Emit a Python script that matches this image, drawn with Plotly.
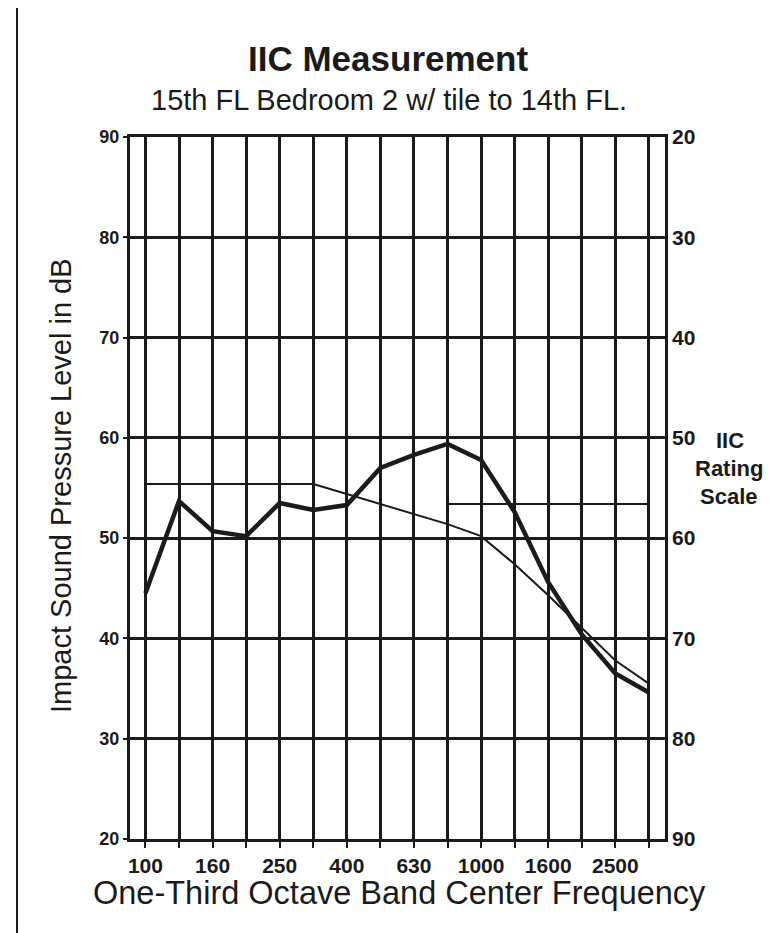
import plotly.graph_objects as go

# ---- data ----
bands = ["100", "125", "160", "200", "250", "315", "400", "500", "630",
         "800", "1000", "1250", "1600", "2000", "2500", "3150"]
band_labels = ["100", "", "160", "", "250", "", "400", "", "630",
               "", "1000", "", "1600", "", "2500", ""]
measured = [44.5, 53.7, 50.7, 50.2, 53.5, 52.8, 53.3, 57.0, 58.3,
            59.4, 57.8, 52.6, 45.6, 40.4, 36.5, 34.6]
contour = [55.4, 55.4, 55.4, 55.4, 55.4, 55.4, 54.4, 53.4, 52.4,
           51.4, 50.2, 47.4, 44.3, 41.0, 37.8, 35.5]
iic_line_bands = ["800", "3150"]
iic_line_level = [53.4, 53.4]
spl_ticks = [20, 30, 40, 50, 60, 70, 80, 90]
rating_ticks = [20, 30, 40, 50, 60, 70, 80, 90]

# ---- layout geometry (pixels) ----
W, H = 775, 933
L, R, T, B = 122, 118, 129, 102
PW, PH = W - L - R, H - T - B


def px(x):
    return (x - L) / PW


def py(y):
    return (H - B - y) / PH


INK = "#1b1b1b"
FONT = "Arial, Liberation Sans, sans-serif"

fig = go.Figure()
fig.add_trace(go.Scatter(x=bands, y=contour, mode="lines",
                         line=dict(color=INK, width=2), hoverinfo="skip",
                         showlegend=False))
fig.add_trace(go.Scatter(x=iic_line_bands, y=iic_line_level, mode="lines",
                         line=dict(color=INK, width=2), hoverinfo="skip",
                         showlegend=False))
fig.add_trace(go.Scatter(x=bands, y=measured, mode="lines",
                         line=dict(color=INK, width=4.5), hoverinfo="skip",
                         showlegend=False))
fig.add_trace(go.Scatter(x=[bands[0], bands[-1]],
                         y=[rating_ticks[0], rating_ticks[-1]],
                         mode="lines", opacity=0, yaxis="y2",
                         hoverinfo="skip", showlegend=False))

fig.update_layout(
    width=W, height=H,
    margin=dict(l=L, r=R, t=T, b=B),
    paper_bgcolor="white", plot_bgcolor="white",
    font=dict(family=FONT, color=INK),
    xaxis=dict(type="category", categoryorder="array", categoryarray=bands,
               range=[-0.46, 15.48], tickvals=bands, ticktext=band_labels,
               showgrid=True, gridcolor=INK, gridwidth=3,
               showline=True, linecolor=INK, linewidth=3, mirror=True,
               ticks="outside", ticklen=6, tickwidth=2, tickcolor=INK,
               tickfont=dict(size=21, family=FONT, weight="bold"),
               zeroline=False),
    yaxis=dict(range=[20, 90], tickvals=spl_ticks,
               showgrid=True, gridcolor=INK, gridwidth=2.5,
               showline=True, linecolor=INK, linewidth=3, mirror=True,
               ticks="outside", ticklen=4, tickwidth=2, tickcolor=INK,
               tickfont=dict(size=18, family=FONT, weight="bold"),
               zeroline=False),
    yaxis2=dict(overlaying="y", side="right", range=[90, 20],
                tickvals=rating_ticks, showgrid=False, zeroline=False,
                showline=False, ticks="", ticklabelstandoff=6,
                tickfont=dict(size=21, family=FONT, weight="bold")),
)

ann = [
    dict(text="IIC Measurement", x=px(380), y=py(50),
         font=dict(size=35, family=FONT, weight="bold")),
    dict(text="15th FL Bedroom 2 w/ tile to 14th FL.", x=px(381), y=py(92),
         font=dict(size=29, family=FONT)),
    dict(text="One-Third Octave Band Center Frequency", x=px(391), y=py(885),
         font=dict(size=32.5, family=FONT)),
    dict(text="Impact Sound Pressure Level in dB", x=px(53), y=py(478),
         textangle=-90, font=dict(size=29, family=FONT)),
    dict(text="IIC", x=px(722), y=py(432),
         font=dict(size=22, family=FONT, weight="bold")),
    dict(text="Rating", x=px(721), y=py(460),
         font=dict(size=22, family=FONT, weight="bold")),
    dict(text="Scale", x=px(721), y=py(488),
         font=dict(size=22, family=FONT, weight="bold")),
]
for a in ann:
    a.update(xref="paper", yref="paper", showarrow=False,
             xanchor="center", yanchor="middle")
    fig.add_annotation(**a)

# outer frame of the scanned page
fig.add_shape(type="line", xref="paper", yref="paper",
              x0=px(9), x1=px(9), y0=py(0), y1=py(930),
              line=dict(color=INK, width=2))
fig.add_shape(type="line", xref="paper", yref="paper",
              x0=px(9), x1=px(775), y0=py(930), y1=py(930),
              line=dict(color=INK, width=2))

fig.write_html("out.html")
